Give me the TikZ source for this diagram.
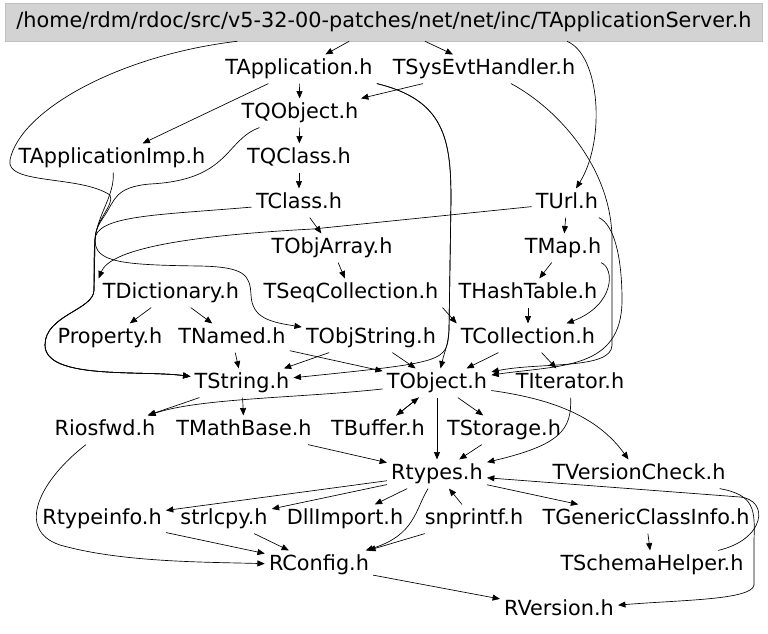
\documentclass[tikz,border=0pt]{standalone}
\usepackage{fontspec}
\setmainfont{DejaVu Sans}
\usetikzlibrary{arrows.meta}
\definecolor{rootfill}{RGB}{211,211,211}
\definecolor{rootline}{RGB}{191,191,191}
\begin{document}
\begin{tikzpicture}[x=0.75pt, y=-0.75pt,
  file/.style={font=\fontsize{15.6}{18}\selectfont, inner sep=3pt, text height=12pt, text depth=3.5pt},
  top/.style={file, draw=rootline, fill=rootfill, minimum width=568pt, minimum height=28.5pt},
  dep/.style={-{Triangle[length=5.5pt,width=4.5pt]}, line width=0.5pt}
]
  \useasboundingbox (0,0) rectangle (768,633);
  \node[top] (root) at (384,22) {/home/rdm/rdoc/src/v5-32-00-patches/net/net/inc/TApplicationServer.h};
  \node[file] (tapp) at (299,69) {TApplication.h};
  \node[file] (tsys) at (484,69) {TSysEvtHandler.h};
  \node[file] (tqobj) at (300,113) {TQObject.h};
  \node[file] (tappimp) at (112,158) {TApplicationImp.h};
  \node[file] (tqclass) at (299,158) {TQClass.h};
  \node[file] (tclass) at (299,203) {TClass.h};
  \node[file] (turl) at (567,203) {TUrl.h};
  \node[file] (tobjarr) at (332,248) {TObjArray.h};
  \node[file] (tmap) at (563,248) {TMap.h};
  \node[file] (tdict) at (171,293) {TDictionary.h};
  \node[file] (tseqcoll) at (351,293) {TSeqCollection.h};
  \node[file] (thash) at (528,293) {THashTable.h};
  \node[file] (prop) at (110,338) {Property.h};
  \node[file] (tnamed) at (232,338) {TNamed.h};
  \node[file] (tobjstr) at (371,338) {TObjString.h};
  \node[file] (tcoll) at (528,338) {TCollection.h};
  \node[file] (tstring) at (242,383) {TString.h};
  \node[file] (tobject) at (437,383) {TObject.h};
  \node[file] (titer) at (570,383) {TIterator.h};
  \node[file] (riosfwd) at (105,430) {Riosfwd.h};
  \node[file] (tmathbase) at (244,430) {TMathBase.h};
  \node[file] (tbuffer) at (378,430) {TBuffer.h};
  \node[file] (tstorage) at (504,430) {TStorage.h};
  \node[file] (rtypes) at (437,474) {Rtypes.h};
  \node[file] (tverchk) at (639,474) {TVersionCheck.h};
  \node[file] (rtypeinfo) at (102,519) {Rtypeinfo.h};
  \node[file] (strlcpy) at (224,519) {strlcpy.h};
  \node[file] (dllimport) at (345,519) {DllImport.h};
  \node[file] (snprintf) at (474,519) {snprintf.h};
  \node[file] (tgeninfo) at (646,519) {TGenericClassInfo.h};
  \node[file] (rconfig) at (319,565) {RConfig.h};
  \node[file] (tschema) at (652,565) {TSchemaHelper.h};
  \node[file] (rversion) at (559,610) {RVersion.h};

  \draw[dep] (root) -- (tapp);
  \draw[dep] (root) -- (tsys);
  \draw[dep] (root.south -| turl) .. controls (600,55) and (606,140) .. (turl);
  \draw[dep] (root.south -| tqobj.west) .. controls (120,55) and (20,110) .. (10,160)
    .. controls (5,185) and (80,175) .. (110,195) .. controls (115,205) and (95,220) .. (95,240)
    -- (94,290) .. controls (94,310) and (45,315) .. (45,345) .. controls (45,380) and (140,370) .. (tstring);
  \draw[dep] (tapp) -- (tqobj);
  \draw[dep] (tapp) -- (tappimp);
  \draw[dep] (tapp.south east) .. controls (445,100) and (451,140) .. (451,200) -- (449,330)
    .. controls (448,345) and (445,350) .. (tobject);
  \draw[dep] (tapp.south east) .. controls (445,100) and (451,140) .. (451,200) -- (449,330)
    .. controls (447,362) .. (tstring);
  \draw[dep] (tsys) -- (tqobj);
  \draw[dep] (tsys) .. controls (560,110) and (612,170) .. (612,240) -- (612,345)
    .. controls (612,370) and (540,362) .. (tobject);
  \draw[dep] (turl) .. controls (615,225) and (622,260) .. (622,300)
    .. controls (622,370) and (560,365) .. (tobject);
  \draw[dep] (tqobj) -- (tqclass);
  \draw[dep] (tqobj) .. controls (225,140) and (230,180) .. (150,184) .. controls (115,187) and (115,200) .. (105,215)
    .. controls (95,230) .. (94,260) -- (94,290) .. controls (94,310) and (45,315) .. (45,345)
    .. controls (45,380) and (140,370) .. (tstring);
  \draw[dep] (tappimp) .. controls (115,195) and (97,215) .. (95,240) -- (94,290)
    .. controls (94,310) and (45,315) .. (45,345) .. controls (45,380) and (140,370) .. (tstring);
  \draw[dep] (tqclass) -- (tclass);
  \draw[dep] (tclass) -- (tobjarr);
  \draw[dep] (tclass) .. controls (160,215) and (95,215) .. (95,240) .. controls (95,262) and (120,265) .. (200,266)
    .. controls (245,267) and (250,275) .. (251,295) .. controls (252,318) and (270,322) .. (tobjstr);
  \draw[dep] (turl) -- (313,229) .. controls (180,236) and (110,250) .. (tdict.north west);
  \draw[dep] (turl) -- (tmap);
  \draw[dep] (tmap) -- (thash);
  \draw[dep] (tmap) .. controls (615,268) and (615,305) .. (tcoll);
  \draw[dep] (thash) -- (tcoll);
  \draw[dep] (tobjarr) -- (tseqcoll);
  \draw[dep] (tseqcoll.south east) -- (tcoll.north west);
  \draw[dep] (tdict) -- (prop);
  \draw[dep] (tdict) -- (tnamed);
  \draw[dep] (tnamed) -- (tstring);
  \draw[dep] (tnamed) -- (tobject);
  \draw[dep] (tobjstr) -- (tobject);
  \draw[dep] (tobjstr) -- (tstring);
  \draw[dep] (tcoll) -- (tobject);
  \draw[dep] (tcoll) -- (titer);
  \draw[dep] (tobject) .. controls (300,398) and (200,398) .. (riosfwd);
  \draw[dep] (tstring) -- (riosfwd);
  \draw[dep] (tstring) -- (tmathbase);
  \draw[dep] (tobject) -- (tbuffer);
  \draw[dep] (tbuffer) -- (tobject);
  \draw[dep] (tobject) -- (tstorage);
  \draw[dep] (tobject) -- (rtypes);
  \draw[dep] (tobject) .. controls (560,400) and (600,420) .. (tverchk);
  \draw[dep] (tmathbase) -- (rtypes);
  \draw[dep] (tstorage) -- (rtypes);
  \draw[dep] (titer) .. controls (572,430) and (560,445) .. (rtypes);
  \draw[dep] (riosfwd) .. controls (40,480) and (15,530) .. (60,545) .. controls (120,562) and (200,562) .. (rconfig);
  \draw[dep] (rtypes) -- (rtypeinfo);
  \draw[dep] (rtypes) -- (strlcpy);
  \draw[dep] (rtypes) -- (dllimport);
  \draw[dep] (snprintf) -- (rtypes);
  \draw[dep] (rtypes) .. controls (415,510) and (415,535) .. (rconfig);
  \draw[dep] (snprintf) -- (rconfig);
  \draw[dep] (rtypes) -- (tgeninfo);
  \draw[dep] (tgeninfo) -- (tschema);
  \draw[dep] (tschema) .. controls (765,540) and (770,500) .. (740,497) -- (rtypes);
  \draw[dep] (tverchk) .. controls (755,495) and (755,510) .. (754,540) -- (754,585)
    .. controls (752,600) and (680,600) .. (rversion);
  \draw[dep] (rtypeinfo) -- (rconfig);
  \draw[dep] (strlcpy) -- (rconfig);
  \draw[dep] (rconfig) -- (rversion);
\end{tikzpicture}
\end{document}
